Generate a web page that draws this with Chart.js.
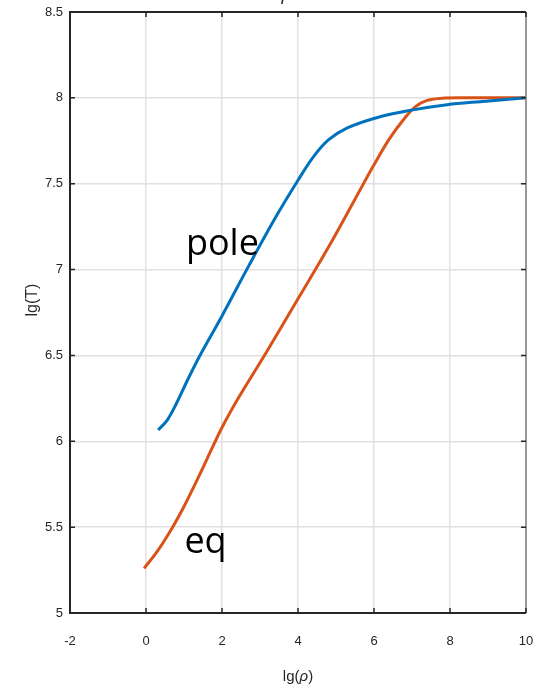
<!DOCTYPE html>
<html>
<head>
<meta charset="utf-8">
<script src="https://cdn.jsdelivr.net/npm/chart.js@4/dist/chart.umd.min.js"></script>
<style>
  html, body { margin: 0; padding: 0; background: #fff; }
  #wrap { width: 544px; height: 691px; position: relative; }
</style>
</head>
<body>
<div id="wrap"><canvas id="c" width="544" height="691"></canvas></div>
<script>
// Temperature profiles lg(T) against density lg(rho)
const poleRho = [0.32, 0.55, 0.8, 1.1, 1.42, 2.0, 2.7, 3.4, 4.0, 4.4, 4.8, 5.3, 6.16, 7.03, 7.92, 8.79, 10];
const poleT   = [6.066, 6.12, 6.22, 6.36, 6.50, 6.73, 7.02, 7.30, 7.52, 7.655, 7.755, 7.825, 7.89, 7.93, 7.96, 7.978, 8.0];

const eqRho = [-0.05, 0.3, 0.7, 1.0, 1.4, 1.76, 2.0, 2.4, 3.2, 4.0, 4.8, 5.5, 6.0, 6.4, 6.8, 7.1, 7.4, 7.8, 8.5, 10];
const eqT   = [5.26, 5.36, 5.50, 5.62, 5.80, 5.97, 6.08, 6.24, 6.53, 6.83, 7.13, 7.41, 7.61, 7.76, 7.88, 7.95, 7.985, 7.998, 8.0, 8.0];

const xTicks = [-2, 0, 2, 4, 6, 8, 10];
const yTicks = [5, 5.5, 6, 6.5, 7, 7.5, 8, 8.5];

const curveLabels = [
  { text: 'pole', x: 1.05, y: 7.085 },
  { text: 'eq',   x: 1.01, y: 5.35 }
];

const toPoints = (xs, ys) => xs.map((x, i) => ({ x: x, y: ys[i] }));

const AXIS_DARK = '#262626';
const FONT_FAMILY = '"Liberation Sans", Arial, sans-serif';

// Axes box, tick marks, axis titles and in-plot labels
const decorations = {
  id: 'decorations',
  afterDatasetsDraw(chart) {
    const { ctx, chartArea: a, scales } = chart;
    const xs = scales.x, ys = scales.y;
    ctx.save();

    // box: dark top/left/bottom, grey right edge
    ctx.lineWidth = 2;
    ctx.strokeStyle = '#999999';
    ctx.beginPath(); ctx.moveTo(a.right, a.top); ctx.lineTo(a.right, a.bottom); ctx.stroke();
    ctx.strokeStyle = AXIS_DARK;
    ctx.beginPath();
    ctx.moveTo(a.right, a.top); ctx.lineTo(a.left, a.top);
    ctx.lineTo(a.left, a.bottom); ctx.lineTo(a.right, a.bottom);
    ctx.stroke();

    // inward tick marks
    ctx.lineWidth = 1.5;
    const tl = 5;
    xTicks.forEach(v => {
      const px = xs.getPixelForValue(v);
      ctx.beginPath();
      ctx.moveTo(px, a.bottom); ctx.lineTo(px, a.bottom - tl);
      ctx.moveTo(px, a.top); ctx.lineTo(px, a.top + tl);
      ctx.stroke();
    });
    yTicks.forEach(v => {
      const py = ys.getPixelForValue(v);
      ctx.beginPath();
      ctx.moveTo(a.left, py); ctx.lineTo(a.left + tl, py);
      ctx.moveTo(a.right, py); ctx.lineTo(a.right - tl, py);
      ctx.stroke();
    });

    // axis titles
    ctx.fillStyle = AXIS_DARK;
    ctx.textBaseline = 'middle';
    const cx = (a.left + a.right) / 2;
    const f1 = '15px ' + FONT_FAMILY;
    const f2 = 'italic 15px ' + FONT_FAMILY;
    ctx.font = f1;
    const w1 = ctx.measureText('lg(').width, w3 = ctx.measureText(')').width;
    ctx.font = f2;
    const w2 = ctx.measureText('\u03C1').width;
    const sx = cx - (w1 + w2 + w3) / 2;
    const ty = 677;
    ctx.textAlign = 'left';
    ctx.font = f1; ctx.fillText('lg(', sx, ty);
    ctx.font = f2; ctx.fillText('\u03C1', sx + w1, ty);
    ctx.font = f1; ctx.fillText(')', sx + w1 + w2, ty);

    ctx.save();
    ctx.translate(33, 300);
    ctx.rotate(-Math.PI / 2);
    ctx.textAlign = 'center';
    ctx.font = '16px ' + FONT_FAMILY;
    ctx.fillText('lg(T)', 0, 0);
    ctx.restore();

    // title, mostly above the visible area
    ctx.textAlign = 'center';
    ctx.textBaseline = 'alphabetic';
    ctx.font = 'italic 18px ' + FONT_FAMILY;
    ctx.fillText('\u03C1', xs.getPixelForValue(3.7), 0);

    // curve labels
    ctx.fillStyle = '#000000';
    ctx.textAlign = 'left';
    ctx.font = '36px "Open Sans", sans-serif';
    curveLabels.forEach(l => {
      ctx.fillText(l.text, xs.getPixelForValue(l.x), ys.getPixelForValue(l.y));
    });
    ctx.restore();
  }
};

const lineStyle = (color) => ({
  showLine: true,
  borderColor: color,
  borderWidth: 3,
  pointRadius: 0,
  tension: 0.35,
  fill: false
});

new Chart(document.getElementById('c'), {
  type: 'scatter',
  data: {
    datasets: [
      Object.assign({ label: 'pole', data: toPoints(poleRho, poleT) }, lineStyle('#0072BD')),
      Object.assign({ label: 'eq', data: toPoints(eqRho, eqT) }, lineStyle('#D95319'))
    ]
  },
  options: {
    responsive: false,
    animation: false,
    layout: { padding: { top: 12, right: 18, left: 0, bottom: 0 } },
    plugins: { legend: { display: false }, tooltip: { enabled: false }, title: { display: false } },
    scales: {
      x: {
        type: 'linear',
        min: -2, max: 10,
        afterBuildTicks(s) { s.ticks = xTicks.map(v => ({ value: v })); },
        afterFit(s) { s.height = 78; s.paddingLeft = 0; s.paddingRight = 0; },
        border: { display: false },
        grid: { color: '#e0e0e0', lineWidth: 1.5, drawTicks: false },
        ticks: { color: AXIS_DARK, font: { family: FONT_FAMILY, size: 13 }, padding: 21, maxRotation: 0, callback: v => String(v) }
      },
      y: {
        type: 'linear',
        min: 5, max: 8.5,
        afterBuildTicks(s) { s.ticks = yTicks.map(v => ({ value: v })); },
        afterFit(s) { s.width = 70; s.paddingTop = 0; s.paddingBottom = 0; },
        border: { display: false },
        grid: { color: '#e0e0e0', lineWidth: 1.5, drawTicks: false },
        ticks: { color: AXIS_DARK, font: { family: FONT_FAMILY, size: 13 }, padding: 7, callback: v => String(v) }
      }
    }
  },
  plugins: [decorations]
});
</script>
</body>
</html>
